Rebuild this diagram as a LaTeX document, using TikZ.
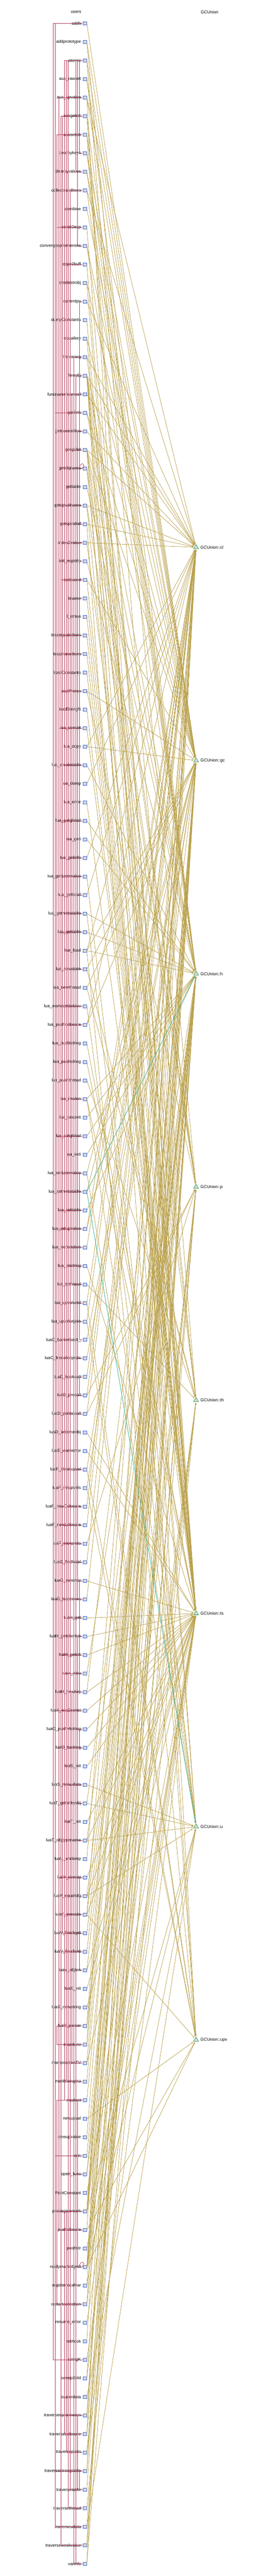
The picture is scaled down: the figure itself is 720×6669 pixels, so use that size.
\documentclass[tikz,border=0pt]{standalone}
\usepackage{fontspec}
\setmainfont{Liberation Sans}
\usetikzlibrary{arrows.meta, shapes.geometric}

\definecolor{callred}{HTML}{B5405E}
\definecolor{useyellow}{HTML}{B9A04C}
\definecolor{hiteal}{HTML}{3FB8A0}
\definecolor{boxblue}{HTML}{3B6CF2}
\definecolor{boxgrey}{HTML}{D8D8D8}
\definecolor{trigreen}{HTML}{2F9E4F}

\begin{document}
\begin{tikzpicture}[x=0.5pt, y=-0.5pt,
    every node/.style={font=\fontsize{5.5}{6}\selectfont},
    fname/.style={anchor=east, inner xsep=1.5pt, inner ysep=0pt},
    fbox/.style={draw=boxblue, fill=boxgrey, line width=0.5pt, minimum width=4.5pt, minimum height=4pt, inner sep=0pt},
    gctri/.style={regular polygon, regular polygon sides=3, draw=trigreen, fill=boxgrey, line width=0.5pt, minimum size=7.5pt, inner sep=0pt},
    gcname/.style={anchor=west, inner sep=0pt},
    useedge/.style={draw=useyellow, line width=0.5pt, -{Stealth[length=2.5pt,width=2pt]}, shorten >=1pt},
    hiedge/.style={useedge, draw=hiteal, line width=0.6pt},
    callarrow/.style={draw=callred, line width=0.5pt, -{Stealth[length=2pt,width=1.6pt]}},
    callline/.style={draw=callred, line width=0.5pt}]
    \useasboundingbox (0,0) rectangle (720,6669);

    % Column titles
    \node (users) at (197,31) {users};
    \node (gcunion) at (543,31) {GCUnion};

    % Functions that use GCUnion
    \foreach \n [count=\i from 0] in {addk, addprototype, atomic, aux_rawset, aux_upvalue, auxgetstr, auxsetstr,
        clearbykeys, clearbyvalues, collectvalidlines, combine, const2exp, convergeephemerons, copy2buff,
        createstrobj, currentpc, dumpConstants, equalkey, findvararg, freeobj, funcnamefromcall, genlink,
        getcurrentline, getgclist, getobjname, gettable, getupvalname, getupvalref, index2value, init_registry,
        iscleared, kname, l_strton, lessequalothers, lessthanothers, loadConstants, loadProtos, loadStringN,
        lua_concat, lua_copy, lua_createtable, lua_dump, lua_error, lua_getglobal, lua_geti, lua_getinfo,
        lua_getiuservalue, lua_getlocal, lua_getmetatable, lua_gettable, lua_load, lua_newstate, lua_newthread,
        lua_newuserdatauv, lua_pushcclosure, lua_pushlstring, lua_pushstring, lua_pushthread, lua_rawlen,
        lua_rawseti, lua_setglobal, lua_seti, lua_setiuservalue, lua_setmetatable, lua_settable, lua_setupvalue,
        lua_tocfunction, lua_tolstring, lua_tothread, lua_upvalueid, lua_upvaluejoin, luaC_barrierback_,
        luaC_freeallobjects, luaD_hookcall, luaD_precall, luaD_pretailcall, luaD_seterrorobj, luaE_warnerror,
        luaF_closeupval, luaF_initupvals, luaF_newCclosure, luaF_newLclosure, luaF_newproto, luaG_findlocal,
        luaG_runerror, luaG_traceexec, luaH_get, luaH_getshortstr, luaH_getstr, luaH_new, luaH_newkey,
        luaK_exp2const, luaO_pushvfstring, luaO_tostring, luaS_init, luaS_newudata, luaT_gettmbyobj, luaT_init,
        luaT_objtypename, luaU_undump, luaV_concat, luaV_equalobj, luaV_execute, luaV_finishget, luaV_finishset,
        luaV_objlen, luaX_init, luaX_newstring, luaY_parser, mainfunc, mainpositionTV, markbeingfnz, markmt,
        newupval, newupvalue, nilK, open_func, PrintConstant, propagatemark, pushclosure, pushstr,
        reallymarkobject, registerlocalvar, restartcollection, resume_error, rethook, stringK, sweep2old,
        touserdata, traverseephemeron, traverseLclosure, traverseproto, traversestrongtable, traversetable,
        traversethread, traverseudata, traverseweakvalue, varinfo} {
        \node[fname] (\n) at (213, {61+48*\i}) {\detokenize\expandafter{\n}};
        \node[fbox] (b-\n) at (220, {61+48*\i}) {};
    }

    % GCUnion members
    \foreach \m [count=\k from 0] in {cl, gc, h, p, th, ts, u, upv} {
        \node[gctri] (gc-\m) at (508, {1417+552*\k}) {};
        \node[gcname] (gl-\m) at (519, {1417+552*\k}) {GCUnion::\m};
    }

    % Channels for the calls
    \foreach \c in {0,...,14}
        \coordinate (ch\c) at ({138+4.85*\c}, 0);

    % Calls between the functions
    \foreach \s/\t/\c in {atomic/convergeephemerons/13, atomic/clearbykeys/14, atomic/clearbyvalues/12,
        atomic/markmt/6, atomic/markbeingfnz/7, atomic/propagatemark/8, stringK/addk/0, nilK/addk/1,
        lua_setupvalue/aux_upvalue/3, lua_getglobal/auxgetstr/4, lua_setglobal/auxsetstr/2,
        auxgetstr/luaH_getstr/5, lua_getinfo/collectvalidlines/9, lua_getinfo/funcnamefromcall/10,
        getcurrentline/currentpc/14, luaG_findlocal/findvararg/11, luaC_freeallobjects/freeobj/12,
        traversestrongtable/genlink/1, luaG_traceexec/getcurrentline/13, propagatemark/getgclist/9,
        funcnamefromcall/getobjname/14, getobjname/kname/14, varinfo/getupvalname/11, varinfo/getobjname/12,
        lua_upvalueid/getupvalref/13, lua_upvaluejoin/getupvalref/13, lua_tocfunction/index2value/10,
        lua_tothread/index2value/10, lua_getiuservalue/index2value/10, lua_getmetatable/index2value/10,
        lua_rawlen/index2value/10, lua_setiuservalue/index2value/10, lua_setmetatable/index2value/10,
        lua_newstate/init_registry/14, traverseweakvalue/iscleared/4, traverseephemeron/iscleared/4,
        luaV_execute/lessthanothers/6, luaV_execute/lessequalothers/6, luaK_exp2const/const2exp/2,
        luaV_concat/copy2buff/7, lua_setiuservalue/luaC_barrierback_/14, luaV_execute/luaD_precall/12,
        luaV_execute/luaD_pretailcall/12, luaD_precall/luaD_hookcall/14, luaV_execute/luaF_closeupval/11,
        lua_pushcclosure/luaF_newCclosure/8, pushclosure/luaF_newLclosure/3, loadProtos/luaF_newproto/5,
        lua_getlocal/luaG_findlocal/13, luaH_newkey/luaG_runerror/14, luaV_execute/luaG_traceexec/11,
        lua_gettable/luaH_get/9, luaT_objtypename/luaH_getshortstr/13, luaH_get/luaH_getshortstr/14,
        luaG_runerror/luaO_pushvfstring/12, luaO_pushvfstring/luaO_tostring/14, lua_tolstring/luaO_tostring/8,
        lua_newuserdatauv/luaS_newudata/7, luaV_finishget/luaT_gettmbyobj/13, luaV_finishset/luaT_gettmbyobj/13,
        lua_concat/luaV_concat/3, luaV_execute/luaV_concat/14, luaV_execute/luaV_equalobj/14,
        lua_gettable/luaV_finishget/5, lua_settable/luaV_finishset/4, luaV_execute/luaV_objlen/14,
        luaY_parser/mainfunc/2, luaH_newkey/mainpositionTV/10, restartcollection/markmt/2,
        propagatemark/traverseLclosure/6, propagatemark/traverseproto/7, propagatemark/traversethread/8,
        propagatemark/traverseudata/1, traversetable/traverseephemeron/13, traversetable/traverseweakvalue/12,
        traversetable/traversestrongtable/14, propagatemark/traversetable/9, luaV_execute/pushclosure/12,
        markmt/reallymarkobject/13, mainfunc/open_func/11, open_func/luaH_new/12, lua_createtable/luaH_new/6}
        \draw[callarrow] (\s.east) -- (ch\c |- \s.east) -- (ch\c |- \t.east) -- (\t.east);

    % Recursive calls
    \draw[callarrow] ([xshift=-4pt]getobjname.east) .. controls +(2,-18) and +(10,-14) .. (getobjname.east);
    \draw[callarrow] ([xshift=-4pt]reallymarkobject.east) .. controls +(2,-18) and +(10,-14) .. (reallymarkobject.east);

    % Uses of the GCUnion members
    \foreach \s/\t in {addk/gc, addprototype/gc, addprototype/p, atomic/gc, atomic/th, aux_rawset/h,
        aux_rawset/gc, aux_upvalue/cl, aux_upvalue/upv, aux_upvalue/gc, auxgetstr/ts, auxgetstr/h,
        auxsetstr/ts, auxsetstr/h, clearbykeys/h, clearbykeys/gc, clearbyvalues/h, clearbyvalues/gc,
        collectvalidlines/cl, collectvalidlines/h, combine/gc, const2exp/ts, convergeephemerons/h,
        convergeephemerons/gc, copy2buff/ts, createstrobj/ts, createstrobj/gc, currentpc/cl, dumpConstants/ts,
        equalkey/ts, equalkey/gc, findvararg/cl, findvararg/p, freeobj/p, freeobj/cl, freeobj/th, freeobj/u,
        freeobj/ts, freeobj/h, freeobj/upv, freeobj/gc, funcnamefromcall/cl, genlink/gc, genlink/h,
        getcurrentline/cl, getgclist/h, getgclist/cl, getgclist/u, getgclist/th, getgclist/p, getgclist/gc,
        getobjname/ts, getobjname/p, gettable/h, getupvalname/cl, getupvalname/ts, getupvalname/p,
        getupvalref/cl, getupvalref/upv, index2value/cl, index2value/th, init_registry/h, iscleared/ts,
        iscleared/gc, kname/ts, l_strton/ts, lessequalothers/ts, lessthanothers/ts, loadConstants/ts,
        loadProtos/p, loadProtos/gc, loadStringN/ts, lua_concat/ts, lua_copy/cl, lua_copy/gc,
        lua_createtable/h, lua_dump/cl, lua_error/ts, lua_getglobal/h, lua_geti/h, lua_getinfo/cl,
        lua_getiuservalue/u, lua_getlocal/cl, lua_getmetatable/h, lua_getmetatable/u, lua_gettable/h,
        lua_load/cl, lua_load/h, lua_load/upv, lua_load/gc, lua_newstate/th, lua_newstate/gc,
        lua_newthread/th, lua_newthread/gc, lua_newuserdatauv/u, lua_pushcclosure/cl, lua_pushcclosure/gc,
        lua_pushlstring/ts, lua_pushstring/ts, lua_pushthread/th, lua_rawlen/ts, lua_rawlen/u, lua_rawlen/h,
        lua_rawseti/h, lua_setglobal/h, lua_seti/h, lua_setiuservalue/u, lua_setiuservalue/gc,
        lua_setmetatable/gc, lua_settable/h, lua_setupvalue/cl, lua_setupvalue/gc, lua_tocfunction/cl,
        lua_tolstring/ts, lua_tothread/th, lua_upvalueid/cl, lua_upvalueid/upv, lua_upvaluejoin/cl,
        lua_upvaluejoin/upv, luaC_barrierback_/gc, luaC_freeallobjects/gc, luaD_hookcall/cl,
        luaD_precall/cl, luaD_precall/p, luaD_pretailcall/cl, luaD_pretailcall/p, luaD_seterrorobj/ts,
        luaE_warnerror/ts, luaF_closeupval/upv, luaF_closeupval/gc, luaF_initupvals/upv, luaF_initupvals/gc,
        luaF_newCclosure/cl, luaF_newLclosure/cl, luaF_newproto/p, luaG_findlocal/cl, luaG_runerror/ts,
        luaG_traceexec/cl, luaH_get/ts, luaH_getshortstr/ts, luaH_getstr/ts, luaH_new/h, luaH_newkey/ts,
        luaH_newkey/gc, luaK_exp2const/ts, luaO_pushvfstring/ts, luaO_tostring/ts, luaS_init/ts,
        luaS_newudata/u, luaT_gettmbyobj/h, luaT_gettmbyobj/u, luaT_init/ts, luaT_objtypename/h,
        luaT_objtypename/u, luaT_objtypename/ts, luaU_undump/cl, luaV_concat/ts, luaV_equalobj/u,
        luaV_equalobj/h, luaV_equalobj/ts, luaV_execute/cl, luaV_execute/h, luaV_execute/ts,
        luaV_execute/upv, luaV_finishget/h, luaV_finishset/h, luaV_objlen/ts, luaV_objlen/h, luaX_init/ts,
        luaX_newstring/ts, luaY_parser/cl, luaY_parser/h, mainfunc/cl, mainfunc/gc, mainpositionTV/ts,
        mainpositionTV/gc, markbeingfnz/gc, markmt/h, newupval/upv, newupvalue/gc, nilK/h, open_func/h,
        open_func/p, PrintConstant/ts, propagatemark/h, propagatemark/cl, propagatemark/u, propagatemark/th,
        propagatemark/p, propagatemark/gc, pushclosure/cl, pushclosure/upv, pushstr/ts, reallymarkobject/ts,
        reallymarkobject/u, reallymarkobject/upv, reallymarkobject/cl, reallymarkobject/h, reallymarkobject/th,
        reallymarkobject/p, reallymarkobject/gc, registerlocalvar/ts, registerlocalvar/gc, restartcollection/th,
        restartcollection/gc, resume_error/ts, rethook/cl, stringK/ts, sweep2old/th, sweep2old/gc,
        touserdata/u, traverseephemeron/h, traverseephemeron/gc, traverseLclosure/cl, traverseLclosure/p,
        traverseproto/p, traverseproto/ts, traversestrongtable/h, traversestrongtable/gc, traversetable/h,
        traversethread/th, traverseudata/u, traverseudata/h, traverseweakvalue/h, traverseweakvalue/gc,
        varinfo/cl, varinfo/p}
        \draw[useedge] (b-\s.east) -- (gc-\t);

    % Highlighted uses
    \draw[hiedge] (b-lua_setmetatable.east) -- (gc-h);
    \draw[hiedge] (b-lua_setmetatable.east) -- (gc-u);

\end{tikzpicture}
\end{document}
